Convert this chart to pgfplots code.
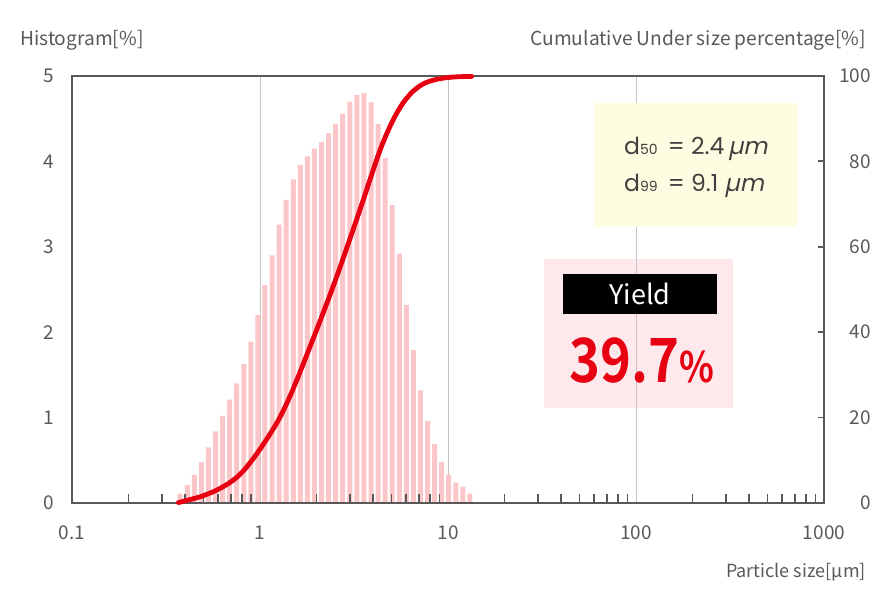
\documentclass[border=0pt]{standalone}
\usepackage{pgfplots}
\pgfplotsset{compat=1.18}
\usepackage{fontspec}
\setmainfont{Noto Sans CJK JP}[BoldFont={Noto Sans CJK JP Bold}]
\newfontfamily\numbold{Noto Sans CJK JP Bold}[FakeStretch=0.86]
\newfontfamily\popfont{Poppins}
\newfontfamily\popit{Poppins}[FakeSlant=0.2]

\definecolor{axisgray}{HTML}{595959}
\definecolor{gridgray}{HTML}{C4C4C4}
\definecolor{barpink}{HTML}{FBC6C7}
\definecolor{curvered}{HTML}{E60012}
\definecolor{boxyellow}{HTML}{FFFDE1}
\definecolor{boxpink}{HTML}{FDE8EB}
\definecolor{textgray}{HTML}{404040}

\tikzset{ticklab/.style={font=\fontsize{19}{22}\selectfont, text=axisgray, inner sep=0pt}}

\begin{document}
\begin{tikzpicture}[x=1pt,y=1pt]
\useasboundingbox (0,0) rectangle (896,613);

% yield box sits under the grid
\fill[boxpink] (544,205) rectangle (733,354);

% histogram (left scale)
\begin{axis}[
    at={(72pt,110pt)}, anchor=south west, scale only axis,
    width=752pt, height=427pt,
    xmode=log, xmin=0.1, xmax=1000,
    ymin=0, ymax=5,
    xtick={0.1,1,10,100,1000},
    xticklabels={0.1,1,10,100,1000},
    ytick={0,1,2,3,4,5}, yticklabels={0,1,2,3,4,5},
    xtick pos=lower, ytick pos=left,
    tick align=inside,
    tick style={draw=none},
    major tick length=0pt, minor tick length=0pt,
    xmajorgrids=true,
    major grid style={gridgray, line width=1pt},
    axis line style={axisgray, line width=1.8pt},
    xticklabel style={ticklab, anchor=base, yshift=-36pt},
    yticklabel style={ticklab, anchor=east, xshift=-18pt},
  ]
  \addplot[ybar, bar width=5pt, fill=barpink, draw=none] coordinates {
    (0.3763,0.11) (0.4103,0.21) (0.4473,0.33) (0.4879,0.48) (0.5320,0.65)
    (0.5800,0.84) (0.6324,1.02) (0.6896,1.21) (0.7518,1.40) (0.8198,1.63)
    (0.8941,1.89) (0.9750,2.20) (1.063,2.55) (1.159,2.90) (1.264,3.26)
    (1.378,3.55) (1.503,3.79) (1.639,3.96) (1.787,4.06) (1.949,4.15)
    (2.125,4.23) (2.317,4.33) (2.527,4.44) (2.755,4.56) (3.004,4.70)
    (3.276,4.78) (3.572,4.80) (3.895,4.69) (4.247,4.44) (4.631,4.04)
    (5.049,3.49) (5.506,2.92) (6.003,2.32) (6.546,1.79) (7.138,1.32)
    (7.783,0.96) (8.487,0.69) (9.256,0.48) (10.09,0.33) (11.00,0.24)
    (12.00,0.19) (13.09,0.11)
  };
\end{axis}

% cumulative curve (right scale)
\begin{axis}[
    at={(72pt,110pt)}, anchor=south west, scale only axis,
    width=752pt, height=427pt,
    xmode=log, xmin=0.1, xmax=1000,
    ymin=0, ymax=100,
    xtick={0.1,1,10,100,1000},
    xticklabels={},
    minor xtick={0.2,0.3,0.4,0.5,0.6,0.7,0.8,0.9,
                 2,3,4,5,6,7,8,9,
                 20,30,40,50,60,70,80,90,
                 200,300,400,500,600,700,800,900},
    ytick={0,20,40,60,80,100}, yticklabels={0,20,40,60,80,100},
    xtick pos=lower, ytick pos=right, yticklabel pos=right,
    tick align=inside,
    xmajorticks=false,
    minor tick length=9pt, major tick length=6pt,
    every tick/.style={axisgray, line width=1.8pt},
    axis line style={axisgray, line width=1.8pt},
    yticklabel style={ticklab, anchor=east, xshift=47pt},
    clip=false,
  ]
  \addplot[curvered, line width=4.8pt, smooth, tension=0.6, line cap=round] coordinates {
    (0.368,0.1) (0.424,0.8) (0.499,1.7) (0.612,3.4) (0.752,6.0)
    (0.903,9.9) (1.129,16.1) (1.330,21.6) (1.567,28.7) (1.845,36.6)
    (2.172,44.6) (2.558,53.0) (3.011,61.9) (3.544,71.0) (3.85,75.8)
    (4.35,82.6) (4.915,88.2) (5.556,92.6) (6.28,95.7) (7.10,97.7)
    (8.02,98.8) (9.44,99.5) (11.12,99.8) (13.37,99.9)
  };
\end{axis}

% axis titles
\node[anchor=west, text=axisgray, inner sep=0pt, font=\fontsize{19.2}{22}\selectfont]
  at (20,573) {Histogram[\%]};
\node[anchor=east, text=axisgray, inner sep=0pt, font=\fontsize{19.2}{22}\selectfont]
  at (866,573) {Cumulative Under size percentage[\%]};
\node[anchor=east, text=axisgray, inner sep=0pt, font=\fontsize{18}{22}\selectfont]
  at (866,41) {Particle size[μm]};

% d50 / d99 box
\fill[boxyellow] (594,386) rectangle (797,510);
\node[anchor=base west, text=textgray, inner sep=0pt, font=\popfont\fontsize{23.5}{26}\selectfont]
  at (624,458) {d{\fontsize{14}{14}\selectfont 50}\ \,=\ 2.4\,{\popit µm}};
\node[anchor=base west, text=textgray, inner sep=0pt, font=\popfont\fontsize{23.5}{26}\selectfont]
  at (624,421) {d{\fontsize{14}{14}\selectfont 99}\ \,=\ 9.1\ {\popit µm}};

% yield
\fill[black] (563,299) rectangle (717,339);
\node[text=white, inner sep=0pt, font=\fontsize{27}{30}\selectfont] at (640,319) {Yield};
\node[anchor=base, text=curvered, inner sep=0pt, font=\numbold\fontsize{61}{64}\selectfont]
  at (642,230) {39.7{\fontsize{42}{42}\selectfont\%}};
\end{tikzpicture}
\end{document}
